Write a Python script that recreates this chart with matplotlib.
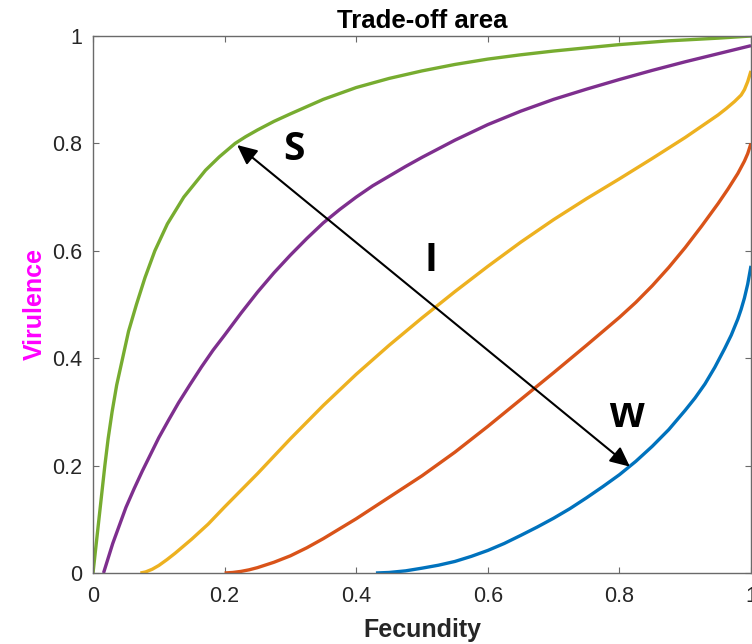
import matplotlib
matplotlib.use("Agg")
import matplotlib.pyplot as plt
from matplotlib.patches import ArrowStyle

# Trade-off curves: fecundity (x) vs virulence (y)
green_x = [0.0, 0.0045, 0.009, 0.0135, 0.018, 0.023, 0.029, 0.036, 0.045, 0.054, 0.066, 0.079,
           0.094, 0.113, 0.138, 0.171, 0.192, 0.216, 0.232, 0.25, 0.275, 0.30, 0.35, 0.40, 0.45,
           0.50, 0.55, 0.60, 0.65, 0.70, 0.75, 0.80, 0.875, 0.95, 1.0]
green_y = [0.0, 0.05, 0.10, 0.15, 0.20, 0.25, 0.30, 0.35, 0.40, 0.45, 0.50, 0.55,
           0.60, 0.65, 0.70, 0.75, 0.775, 0.80, 0.8125, 0.825, 0.841, 0.855, 0.882, 0.904, 0.921,
           0.935, 0.947, 0.957, 0.965, 0.972, 0.978, 0.984, 0.991, 0.996, 1.0]

purple_x = [0.016, 0.030, 0.050, 0.0625, 0.075, 0.0875, 0.10, 0.115, 0.13, 0.1475, 0.165, 0.1825,
            0.20, 0.225, 0.25, 0.275, 0.30, 0.325, 0.35, 0.375, 0.40, 0.425, 0.45, 0.475, 0.50,
            0.55, 0.60, 0.65, 0.70, 0.75, 0.80, 0.85, 0.90, 0.95, 1.0]
purple_y = [0.0, 0.055, 0.122, 0.157, 0.190, 0.221, 0.252, 0.285, 0.317, 0.351, 0.384, 0.415,
            0.443, 0.484, 0.523, 0.559, 0.592, 0.623, 0.652, 0.677, 0.700, 0.721, 0.739, 0.757, 0.774,
            0.806, 0.835, 0.860, 0.882, 0.901, 0.919, 0.936, 0.952, 0.967, 0.982]

yellow_x = [0.072, 0.08, 0.09, 0.10, 0.1125, 0.125, 0.1375, 0.15, 0.175, 0.20, 0.225, 0.25, 0.30,
            0.35, 0.40, 0.45, 0.50, 0.55, 0.60, 0.65, 0.70, 0.75, 0.80, 0.85, 0.90, 0.95, 0.9625,
            0.975, 0.985, 0.99, 0.995, 1.0]
yellow_y = [0.0, 0.002, 0.007, 0.014, 0.025, 0.037, 0.050, 0.063, 0.091, 0.123, 0.154, 0.185, 0.250,
            0.312, 0.370, 0.424, 0.475, 0.524, 0.571, 0.616, 0.658, 0.697, 0.734, 0.772, 0.811, 0.853, 0.865,
            0.878, 0.890, 0.900, 0.915, 0.935]

orange_x = [0.20, 0.2125, 0.225, 0.2375, 0.25, 0.275, 0.30, 0.325, 0.35, 0.40, 0.45, 0.50, 0.55,
            0.60, 0.65, 0.70, 0.75, 0.80, 0.825, 0.85, 0.875, 0.90, 0.925, 0.95, 0.965, 0.98, 0.99,
            0.995, 1.0]
orange_y = [0.0, 0.001, 0.003, 0.006, 0.010, 0.020, 0.032, 0.047, 0.064, 0.101, 0.141, 0.181, 0.225,
            0.273, 0.323, 0.373, 0.424, 0.476, 0.504, 0.535, 0.569, 0.606, 0.646, 0.688, 0.715, 0.744, 0.767,
            0.781, 0.800]

blue_x = [0.43, 0.45, 0.475, 0.50, 0.525, 0.55, 0.575, 0.60, 0.625, 0.65, 0.675, 0.70, 0.725, 0.75,
          0.775, 0.80, 0.825, 0.85, 0.875, 0.90, 0.915, 0.93, 0.945, 0.96, 0.97, 0.98, 0.985, 0.99,
          0.995, 1.0]
blue_y = [0.0, 0.001, 0.004, 0.009, 0.0145, 0.0215, 0.031, 0.042, 0.055, 0.070, 0.0855, 0.102, 0.120,
          0.140, 0.161, 0.183, 0.208, 0.236, 0.267, 0.303, 0.326, 0.352, 0.383, 0.418, 0.443, 0.473,
          0.491, 0.512, 0.538, 0.572]

# Strong -> weak trade-off direction
arrow_start = (0.219, 0.797)
arrow_end = (0.816, 0.198)

ticks = [0, 0.2, 0.4, 0.6, 0.8, 1]
tick_labels = ["0", "0.2", "0.4", "0.6", "0.8", "1"]

fig = plt.figure(figsize=(7.52, 6.44), dpi=100)
ax = fig.add_axes([93 / 752, 71 / 644, 658 / 752, 537 / 644])

lw = 2.4
ax.plot(blue_x, blue_y, color="#0072BD", lw=lw, solid_capstyle="butt")
ax.plot(orange_x, orange_y, color="#D95319", lw=lw, solid_capstyle="butt")
ax.plot(yellow_x, yellow_y, color="#EDB120", lw=lw, solid_capstyle="butt")
ax.plot(purple_x, purple_y, color="#7E2F8E", lw=lw, solid_capstyle="butt")
ax.plot(green_x, green_y, color="#77AC30", lw=lw, solid_capstyle="butt")

ax.annotate("", xy=arrow_start, xytext=arrow_end,
            arrowprops=dict(arrowstyle=ArrowStyle("<|-|>", head_length=0.6, head_width=0.28),
                            mutation_scale=20, color="black", lw=1.5,
                            shrinkA=0, shrinkB=0))

ax.text(0.305, 0.769, "S", family="Open Sans", weight="bold", fontsize=28,
        ha="center", va="baseline", color="black")
ax.text(0.514, 0.562, "I", family="Open Sans", weight="bold", fontsize=28,
        ha="center", va="baseline", color="black")
ax.text(0.811, 0.272, "w", family="Liberation Sans", weight="bold", fontsize=32,
        ha="center", va="baseline", color="black")

ax.set_xlim(0, 1)
ax.set_ylim(0, 1)
ax.set_xticks(ticks)
ax.set_xticklabels(tick_labels)
ax.set_yticks(ticks)
ax.set_yticklabels(tick_labels)

spine_color = "#6a6a6a"
for s in ax.spines.values():
    s.set_color(spine_color)
    s.set_linewidth(1.0)
ax.tick_params(direction="in", length=4.5, width=0.8, color=spine_color,
               top=True, right=True, labelsize=15.5, labelcolor="#262626",
               labelfontfamily="Liberation Sans")
ax.tick_params(axis="x", pad=9)
ax.tick_params(axis="y", pad=8)

ax.set_title("Trade-off area", family="Liberation Sans", weight="bold",
             fontsize=18.5, color="black", pad=6)
ax.set_xlabel("Fecundity", family="Liberation Sans", weight="bold",
              fontsize=18, color="#262626")
ax.set_ylabel("Virulence", family="Liberation Sans", weight="bold",
              fontsize=18, color="#FF00FF")
ax.xaxis.set_label_coords(0.5, -0.084)
ax.yaxis.set_label_coords(-0.07, 0.5)

fig.savefig("out.png", dpi=100)
